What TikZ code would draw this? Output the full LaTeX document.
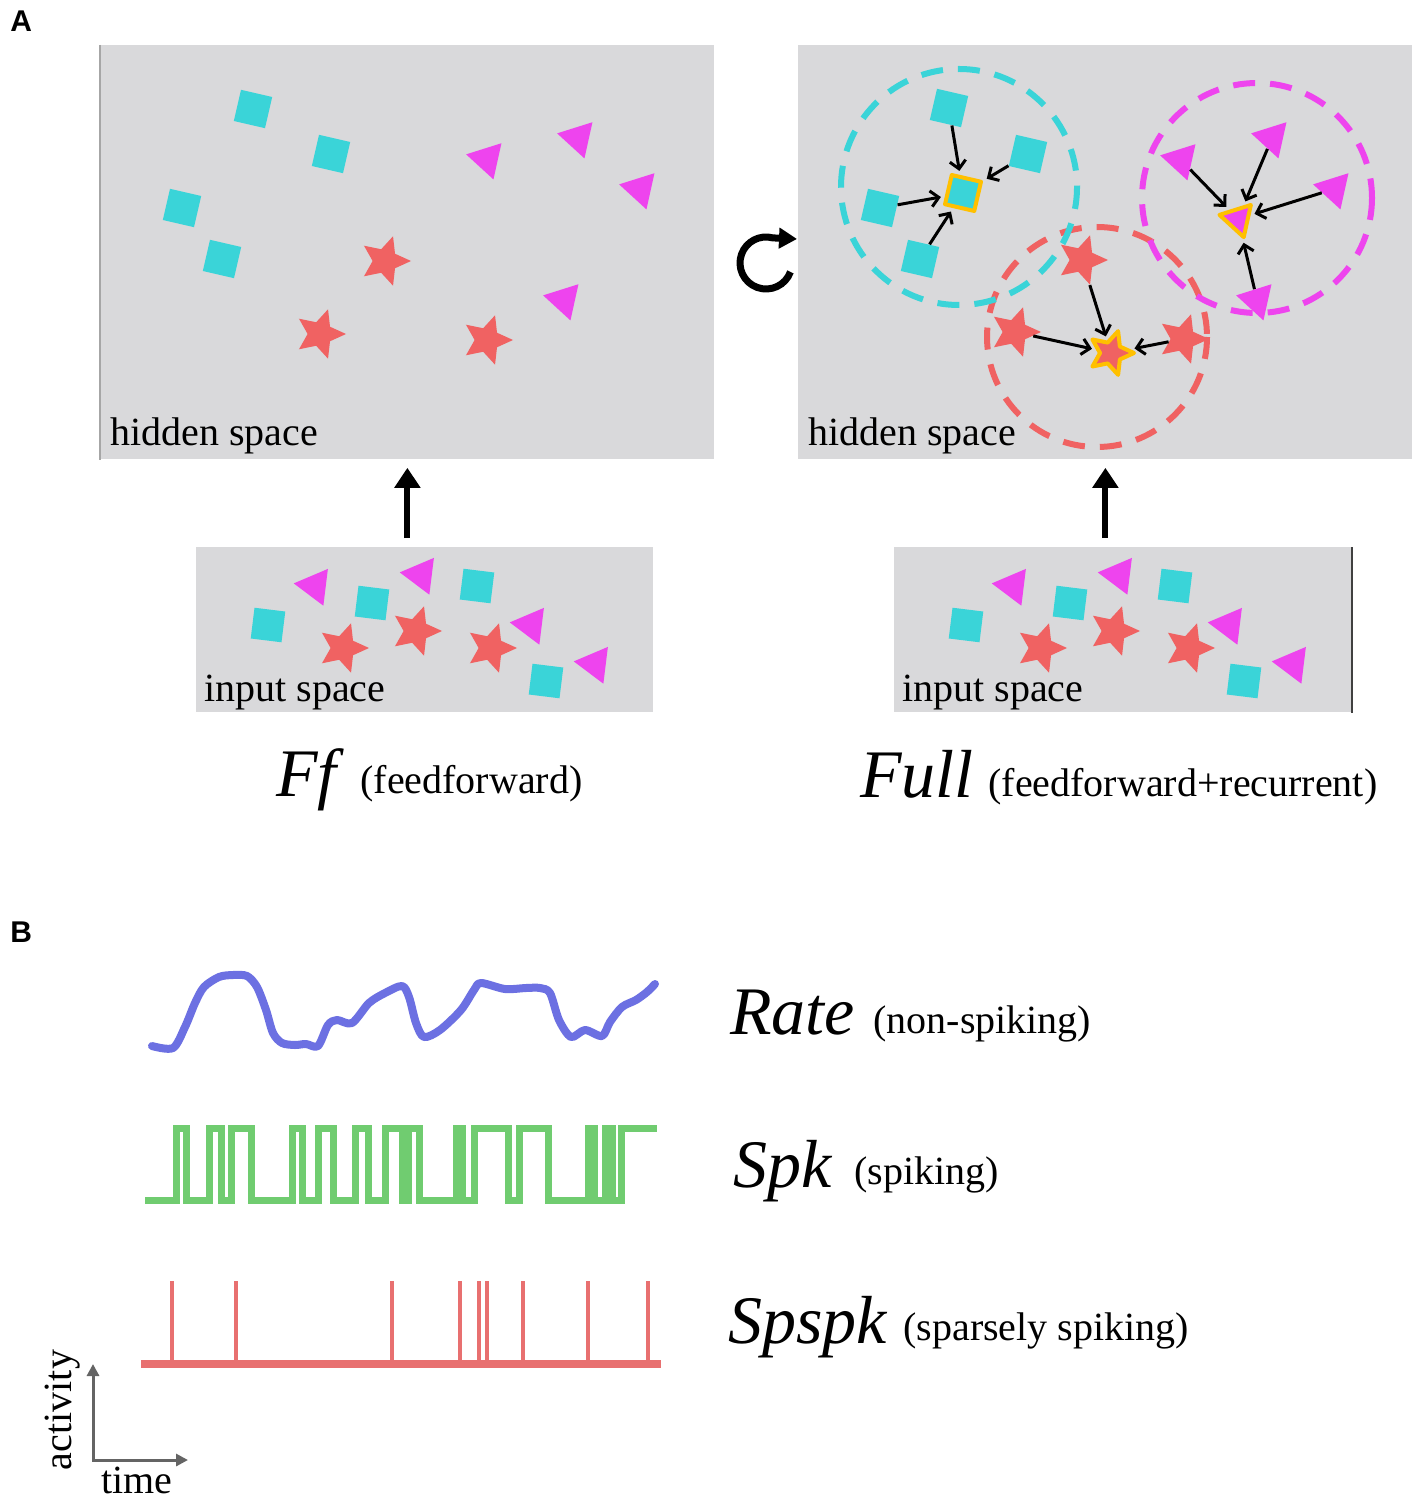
\documentclass[tikz,border=0pt]{standalone}
\usepackage{fontspec}
\setmainfont{Liberation Serif}
\newfontfamily\labfont{Liberation Sans}
\usetikzlibrary{shapes.geometric,arrows.meta}
\definecolor{boxg}{RGB}{217,217,219}
\definecolor{cyanc}{RGB}{58,212,216}
\definecolor{magc}{RGB}{238,68,238}
\definecolor{redc}{RGB}{240,98,98}
\definecolor{yelc}{RGB}{255,192,0}
\definecolor{ratec}{RGB}{108,112,226}
\definecolor{spkc}{RGB}{112,204,112}
\definecolor{spspkc}{RGB}{232,112,112}
\definecolor{axg}{RGB}{100,100,100}
\tikzset{
  box/.style={fill=boxg, draw=none, inner sep=0, anchor=north west},
  sqr/.style={rectangle, fill=cyanc, minimum size=16pt, inner sep=0},
  tri/.style={regular polygon, regular polygon sides=3, fill=magc, minimum size=21.4pt, inner sep=0},
  str/.style={star, star points=5, star point ratio=2.1, fill=redc, minimum size=26pt, inner sep=0},
  hil/.style={draw=yelc, line width=2pt, line join=round},
  conn/.style={line width=1.5pt, -{Straight Barb[length=4pt,width=8pt]}, shorten >=2pt},
  dashc/.style={line width=3pt, dash pattern=on 11pt off 7.5pt},
  uparr/.style={line width=3pt, -{Triangle[length=10pt,width=12.5pt]}},
  lbl/.style={font=\fontsize{20}{24}\selectfont, inner sep=0, anchor=base west},
  big/.style={font=\fontsize{34}{40}\selectfont\itshape, inner sep=0, anchor=base west},
  panel/.style={font=\labfont\bfseries\fontsize{15}{18}\selectfont, inner sep=0, anchor=base west},
}
\begin{document}
\begin{tikzpicture}[x=0.5pt,y=-0.5pt]
\useasboundingbox (0,0) rectangle (1418,1502);
\fill[white] (0,0) rectangle (1418,1502);

% ---------- panel labels
\node[panel] (labA) at (10,32) {A};
\node[panel] (labB) at (10,942) {B};

% ---------- boxes
\node[box, minimum width=307pt, minimum height=207pt] (hidL) at (100,45) {};
\node[box, minimum width=307pt, minimum height=207pt] (hidR) at (798,45) {};
\node[box, minimum width=228.5pt, minimum height=82.5pt] (inL) at (196,547) {};
\node[box, minimum width=228.5pt, minimum height=82.5pt] (inR) at (894,547) {};
\draw[black!35, line width=0.8pt] (hidL.north west) -- (hidL.south west);
\draw[black!75, line width=0.8pt] (inR.north east) -- (inR.south east);

% ---------- up arrows
\draw[uparr, shorten <=4.5pt, shorten >=4pt] (hidL.south |- inL.north) -- (hidL.south);
\draw[uparr, shorten <=4.5pt, shorten >=4pt] (hidR.south |- inR.north) -- (hidR.south);

% ---------- recurrent symbol
\coordinate (rc) at (766,263);
\coordinate (rtip) at (797,239);
\draw[line width=3.5pt, -{Triangle[length=9pt,width=10pt]}] (rc) ++(20:26) arc[start angle=20, end angle=285, radius=26] -- (rtip);

% ---------- left hidden space
\node[sqr, rotate=-13] (lq1) at (253,109) {};
\node[sqr, rotate=-13] (lq2) at (331,154) {};
\node[sqr, rotate=-13] (lq3) at (182,208) {};
\node[sqr, rotate=-13] (lq4) at (222,259) {};
\node[tri, rotate=77.5] (lt1) at (487,159) {};
\node[tri, rotate=77.5] (lt2) at (578,138) {};
\node[tri, rotate=77.5] (lt3) at (640,189) {};
\node[tri, rotate=77.5] (lt4) at (564,300) {};
\node[str, rotate=-18] (ls1) at (385,261) {};
\node[str, rotate=-18] (ls2) at (320,334) {};
\node[str, rotate=-18] (ls3) at (487,340) {};
\node[lbl] (hsL) at (110,445) {hidden space};

% ---------- right hidden space
\draw[dashc, redc] (1097,337) circle[radius=110];
\draw[dashc, magc] (1257,198) circle[radius=115];
\draw[dashc, cyanc] (959,187) circle[radius=118];

\node[sqr, rotate=-13] (rq1) at (949,108) {};
\node[sqr, rotate=-13] (rq2) at (1028,154) {};
\node[sqr, rotate=-13] (rq3) at (880,208) {};
\node[sqr, rotate=-13] (rq4) at (920,259) {};
\node[sqr, hil, minimum size=15pt, rotate=-13] (rqc) at (963,193) {};
\node[tri, rotate=77.5] (rt1) at (1181,160) {};
\node[tri, rotate=77.5] (rt2) at (1272,138) {};
\node[tri, rotate=77.5] (rt3) at (1334,189) {};
\node[tri, rotate=77.5] (rt4) at (1257,300) {};
\node[tri, hil, minimum size=19pt, rotate=77.5] (rtc) at (1238,219) {};
\node[str, rotate=-18] (rs1) at (1082,260) {};
\node[str, rotate=-18] (rs2) at (1015,332) {};
\node[str, rotate=-18] (rs3) at (1183,339) {};
\node[str, hil, minimum size=23pt, rotate=-18] (rsc) at (1111,353) {};

\draw[conn] (rq1) -- (rqc);
\draw[conn] (rq2) -- (rqc);
\draw[conn] (rq3) -- (rqc);
\draw[conn] (rq4) -- (rqc);
\draw[conn] (rt1) -- (rtc);
\draw[conn] (rt2) -- (rtc);
\draw[conn] (rt3) -- (rtc);
\draw[conn] (rt4) -- (rtc);
\draw[conn] (rs1) -- (rsc);
\draw[conn] (rs2) -- (rsc);
\draw[conn] (rs3) -- (rsc);
\node[lbl] (hsR) at (808,445) {hidden space};

% ---------- input spaces
\foreach \dx/\p in {0/a,698/b}{
  \node[sqr, minimum size=15.5pt, rotate=-7] (\p q1) at (268+\dx,625) {};
  \node[sqr, minimum size=15.5pt, rotate=-7] (\p q2) at (372+\dx,603) {};
  \node[sqr, minimum size=15.5pt, rotate=-7] (\p q3) at (477+\dx,586) {};
  \node[sqr, minimum size=15.5pt, rotate=-7] (\p q4) at (546+\dx,681) {};
  \node[tri, rotate=83] (\p t1) at (315+\dx,586) {};
  \node[tri, rotate=83] (\p t2) at (421+\dx,575) {};
  \node[tri, rotate=83] (\p t3) at (531+\dx,625) {};
  \node[tri, rotate=83] (\p t4) at (595+\dx,664) {};
  \node[str, rotate=-18] (\p s1) at (343+\dx,648) {};
  \node[str, rotate=-18] (\p s2) at (416+\dx,631) {};
  \node[str, rotate=-18] (\p s3) at (491+\dx,648) {};
  \node[lbl] (\p lab) at (204+\dx,701) {input space};
}

% ---------- captions A
\node[big] (ff) at (276,796) {Ff};
\node[lbl] (ffd) at (360,793) {(feedforward)};
\node[big] (full) at (860,797) {Full};
\node[lbl] (fulld) at (988,796) {(feedforward+recurrent)};

% ---------- panel B traces
\draw[ratec, line width=4pt, line cap=round, line join=round] plot[smooth, tension=0.5] coordinates {
 (152,1046) (173,1048) (185,1027) (195,1003) (204,987) (219,977) (233,975) (247,976)
 (257,987) (266,1010) (273,1033) (282,1043) (295,1045) (306,1044) (318,1046) (328,1025)
 (337,1020) (352,1023) (369,1003) (385,993) (402,986) (409,997) (416,1023) (424,1037)
 (440,1030) (461,1010) (474,990) (481,983) (505,989) (526,988) (540,988) (550,993)
 (559,1020) (571,1037) (585,1030) (602,1036) (610,1022) (622,1007) (636,1000) (647,992) (655,984)};

\draw[spkc, line width=3.5pt, line join=miter] (145,1200)
 -- (176,1200) -- (176,1128) -- (186,1128) -- (186,1200)
 -- (209,1200) -- (209,1128) -- (221,1128) -- (221,1200)
 -- (231,1200) -- (231,1128) -- (251,1128) -- (251,1200)
 -- (292,1200) -- (292,1128) -- (302,1128) -- (302,1200)
 -- (318,1200) -- (318,1128) -- (333,1128) -- (333,1200)
 -- (355,1200) -- (355,1128) -- (368,1128) -- (368,1200)
 -- (385,1200) -- (385,1128) -- (402,1128) -- (402,1200)
 -- (408,1200) -- (408,1128) -- (419,1128) -- (419,1200)
 -- (456,1200) -- (456,1128) -- (462,1128) -- (462,1200)
 -- (474,1200) -- (474,1128) -- (508,1128) -- (508,1200)
 -- (519,1200) -- (519,1128) -- (548,1128) -- (548,1200)
 -- (588,1200) -- (588,1128) -- (594,1128) -- (594,1200)
 -- (605,1200) -- (605,1128) -- (612,1128) -- (612,1200)
 -- (621,1200) -- (621,1128) -- (657,1128);

\draw[spspkc, line width=4pt] (141,1364) -- (661,1364);
\foreach \sx in {172,236,392,460,479,487,523,588,648}{
  \draw[spspkc, line width=2pt] (\sx,1364) -- (\sx,1281);
}

% ---------- panel B labels
\node[big] (rate) at (730,1034) {Rate};
\node[lbl] (rated) at (873,1033) {(non-spiking)};
\node[big] (spk) at (733,1187) {Spk};
\node[lbl] (spkd) at (854,1184) {(spiking)};
\node[big] (spspk) at (728,1343) {Spspk};
\node[lbl] (spspkd) at (903,1340) {(sparsely spiking)};

% ---------- axes
\coordinate (ax0) at (93,1460);
\coordinate (axy) at (93,1364);
\coordinate (axx) at (188,1460);
\draw[axg, line width=1.5pt, {Triangle[length=6pt,width=6pt]}-{Triangle[length=6pt,width=6pt]}] (axy) -- (ax0) -- (axx);
\node[lbl, rotate=90, anchor=base] (act) at (71,1410) {activity};
\node[lbl] (time) at (101,1493) {time};
\end{tikzpicture}
\end{document}
